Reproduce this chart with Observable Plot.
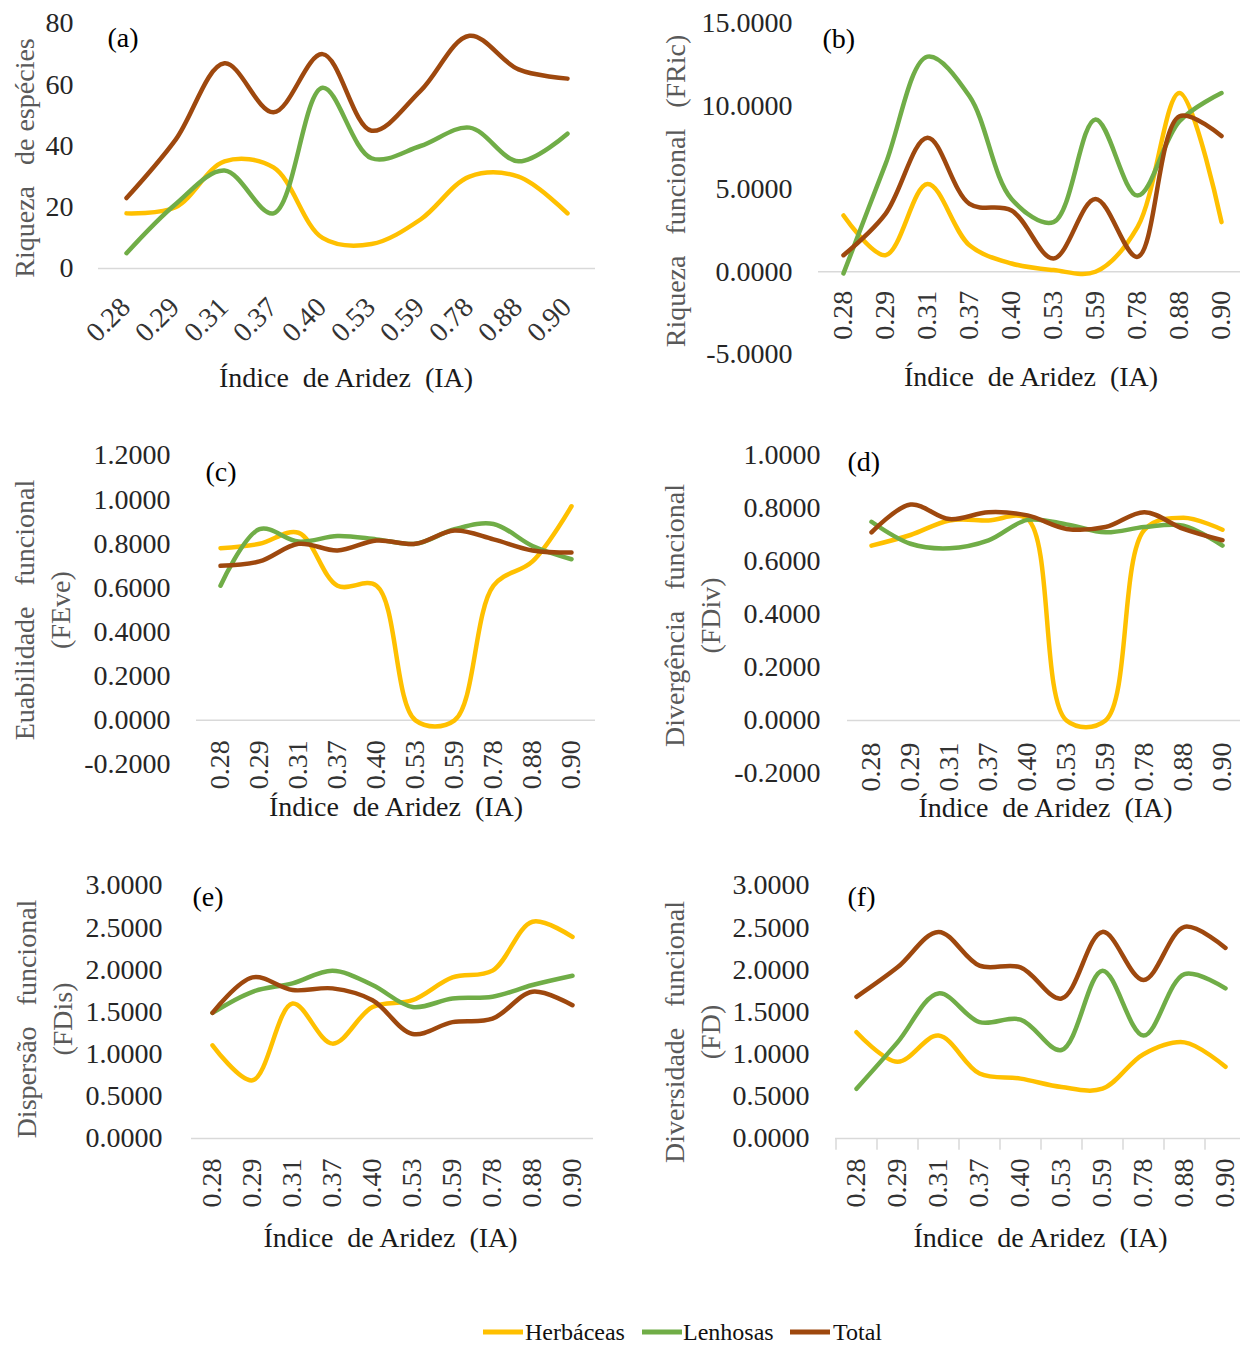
<!DOCTYPE html>
<html>
<head>
<meta charset="utf-8">
<script src="https://cdn.jsdelivr.net/npm/d3@7"></script>
<script src="https://cdn.jsdelivr.net/npm/@observablehq/plot@0.6"></script>
<style>
  html, body { margin: 0; padding: 0; background: #fff; }
  #fig { position: relative; width: 1240px; height: 1347px; overflow: hidden;
         font-family: "Liberation Serif", "Times New Roman", serif; }
  #fig svg { position: absolute; overflow: visible; }
  #fig svg text { white-space: pre; }
</style>
</head>
<body>
<div id="fig"></div>
<script>
// Aridity index classes (x axis of every panel)
const categories = ["0.28", "0.29", "0.31", "0.37", "0.40", "0.53", "0.59", "0.78", "0.88", "0.90"];
const seriesNames = ["Herbáceas", "Lenhosas", "Total"];
const seriesColors = ["#FFC000", "#70AD47", "#9E480E"];

// (a) Riqueza de espécies
const riqHerbaceas = [18, 20, 35, 33, 10, 8, 16, 30, 30, 18];
const riqLenhosas  = [5, 21, 32, 18, 59, 36, 40, 46, 35, 44];
const riqTotal     = [23, 42, 67, 51, 70, 45, 58, 76, 65, 62];
const ticksA = [0, 20, 40, 60, 80];

// (b) Riqueza funcional (FRic)
const fricHerbaceas = [3.4, 1.0, 5.3, 1.6, 0.5, 0.1, 0.0, 2.7, 10.8, 3.0];
const fricLenhosas  = [-0.1, 6.5, 13.0, 10.6, 4.4, 3.0, 9.2, 4.6, 9.1, 10.8];
const fricTotal     = [1.0, 3.5, 8.1, 4.1, 3.7, 0.8, 4.4, 0.9, 9.4, 8.2];
const ticksB = [-5, 0, 5, 10, 15];

// (c) Equabilidade funcional (FEve)
const feveHerbaceas = [0.78, 0.80, 0.85, 0.61, 0.61, 0.0, 0.0, 0.61, 0.72, 0.97];
const feveLenhosas  = [0.61, 0.866, 0.81, 0.835, 0.82, 0.80, 0.866, 0.89, 0.79, 0.73];
const feveTotal     = [0.70, 0.72, 0.80, 0.77, 0.815, 0.80, 0.86, 0.82, 0.77, 0.76];
const ticksC = [-0.2, 0, 0.2, 0.4, 0.6, 0.8, 1.0, 1.2];

// (d) Divergência funcional (FDiv)
const fdivHerbaceas = [0.66, 0.70, 0.755, 0.755, 0.76, 0.0, 0.0, 0.72, 0.765, 0.72];
const fdivLenhosas  = [0.75, 0.667, 0.65, 0.68, 0.757, 0.74, 0.71, 0.73, 0.735, 0.66];
const fdivTotal     = [0.71, 0.815, 0.76, 0.786, 0.774, 0.723, 0.73, 0.786, 0.723, 0.68];
const ticksD = [-0.2, 0, 0.2, 0.4, 0.6, 0.8, 1.0];

// (e) Dispersão funcional (FDis)
const fdisHerbaceas = [1.105, 0.69, 1.60, 1.125, 1.56, 1.64, 1.91, 1.99, 2.57, 2.39];
const fdisLenhosas  = [1.49, 1.74, 1.84, 1.99, 1.82, 1.56, 1.66, 1.68, 1.82, 1.93];
const fdisTotal     = [1.49, 1.91, 1.76, 1.78, 1.64, 1.24, 1.38, 1.42, 1.74, 1.58];
const ticksE = [0, 0.5, 1.0, 1.5, 2.0, 2.5, 3.0];

// (f) Diversidade funcional (FD)
const fdHerbaceas = [1.26, 0.91, 1.22, 0.77, 0.71, 0.61, 0.59, 1.00, 1.14, 0.85];
const fdLenhosas  = [0.59, 1.14, 1.72, 1.38, 1.41, 1.05, 1.99, 1.22, 1.95, 1.78];
const fdTotal     = [1.68, 2.03, 2.45, 2.05, 2.03, 1.66, 2.45, 1.88, 2.51, 2.26];
const ticksF = [0, 0.5, 1.0, 1.5, 2.0, 2.5, 3.0];

const xTitle = "Índice  de Aridez  (IA)";
const FONT = "Liberation Serif, Times New Roman, serif";

function toRows(herb, lenh, total) {
  return [herb, lenh, total].flatMap((vals, s) =>
    vals.map((v, i) => ({cat: categories[i], series: seriesNames[s], value: v})));
}

const fig = document.getElementById("fig");

function drawPanel(p) {
  const mL = p.frame[0] - p.box[0];
  const mR = p.box[0] + p.box[2] - p.frame[1];
  const mT = p.frame[2] - p.box[1];
  const mB = p.box[1] + p.box[3] - p.frame[3];
  const step = (p.frame[1] - p.frame[0]) / categories.length;
  const marks = [
    Plot.ruleY([0], {stroke: "#d9d9d9", strokeWidth: 1.5}),
  ];
  if (p.betweenTicks) {
    marks.push(
      Plot.ruleX(categories, {x: d => d, y1: 0, y2: p.betweenTicks, dx: -step / 2, stroke: "#d9d9d9", strokeWidth: 1.5}),
      Plot.ruleX(categories.slice(-1), {x: d => d, y1: 0, y2: p.betweenTicks, dx: step / 2, stroke: "#d9d9d9", strokeWidth: 1.5})
    );
  }
  marks.push(
    Plot.line(p.data, {x: "cat", y: "value", z: "series", stroke: "series",
      curve: "catmull-rom", strokeWidth: 4.5, strokeLinecap: "round", strokeLinejoin: "round"}),
    // y tick labels
    Plot.text(p.yTicks, {y: d => d, frameAnchor: "left", textAnchor: "end", dx: -p.tickPad,
      text: p.yFormat, fontSize: 28, fill: "#262626"}),
    // x tick labels, hung below the zero line
    Plot.text(categories, {x: d => d, y: () => 0, rotate: p.xRotate, textAnchor: "end",
      lineAnchor: "middle", dx: p.xLabelDx, dy: p.xLabelDy, text: d => d, fontSize: 28, fill: "#333"}),
    // axis titles
    Plot.text([p.yTitle], {frameAnchor: "left", rotate: -90, textAnchor: "middle", lineAnchor: "middle",
      dx: p.yTitleDx, dy: p.yTitleDy, text: d => d, fontSize: 28, lineHeight: 1.27, fill: "#595959"}),
    Plot.text([xTitle], {frameAnchor: "bottom", lineAnchor: "middle", dx: p.xTitleDx, dy: p.xTitleDy,
      text: d => d, fontSize: 28, fill: "#1a1a1a"}),
    // panel letter
    Plot.text([p.tag], {frameAnchor: "top-left", textAnchor: "start", lineAnchor: "middle",
      dx: p.tagDx, dy: p.tagDy, text: d => d, fontSize: 28, fill: "#000"})
  );
  const svg = Plot.plot({
    width: p.box[2], height: p.box[3],
    marginLeft: mL, marginRight: mR, marginTop: mT, marginBottom: mB,
    x: {type: "point", domain: categories, padding: 0.5, axis: null},
    y: {domain: p.yDomain, axis: null},
    color: {domain: seriesNames, range: seriesColors},
    style: {fontFamily: FONT, background: "transparent", overflow: "visible"},
    marks
  });
  svg.style.left = p.box[0] + "px";
  svg.style.top = p.box[1] + "px";
  svg.style.maxWidth = "none";
  fig.appendChild(svg);
}

const fmt4 = d => d.toFixed(4);

drawPanel({
  box: [0, 0, 620, 420], frame: [98, 595, 23, 268],
  data: toRows(riqHerbaceas, riqLenhosas, riqTotal),
  yDomain: [0, 80], yTicks: ticksA, yFormat: d => String(d), tickPad: 25,
  xRotate: -45, xLabelDx: -1, xLabelDy: 34,
  yTitle: "Riqueza   de espécies", yTitleDx: -76, yTitleDy: 12,
  xTitleDx: -1, xTitleDy: 110, tag: "(a)", tagDx: 9, tagDy: 15
});
drawPanel({
  box: [620, 0, 626, 420], frame: [818, 1245, 23, 354],
  data: toRows(fricHerbaceas, fricLenhosas, fricTotal),
  yDomain: [-5, 15], yTicks: ticksB, yFormat: fmt4, tickPad: 26,
  xRotate: -90, xLabelDx: 0, xLabelDy: 19,
  yTitle: "Riqueza   funcional   (FRic)", yTitleDx: -145, yTitleDy: 2,
  xTitleDx: -1, xTitleDy: 23, tag: "(b)", tagDx: 4, tagDy: 16
});
drawPanel({
  box: [0, 420, 620, 420], frame: [196, 595, 455, 764],
  data: toRows(feveHerbaceas, feveLenhosas, feveTotal),
  yDomain: [-0.2, 1.2], yTicks: ticksC, yFormat: fmt4, tickPad: 26,
  xRotate: -90, xLabelDx: 0, xLabelDy: 20,
  yTitle: "Euabilidade   funcional\n(FEve)", yTitleDx: -156, yTitleDy: 0,
  xTitleDx: 0, xTitleDy: 43, tag: "(c)", tagDx: 9, tagDy: 17
});
drawPanel({
  box: [620, 420, 626, 420], frame: [847, 1245, 455, 773],
  data: toRows(fdivHerbaceas, fdivLenhosas, fdivTotal),
  yDomain: [-0.2, 1.0], yTicks: ticksD, yFormat: fmt4, tickPad: 27,
  xRotate: -90, xLabelDx: 0, xLabelDy: 22,
  yTitle: "Divergência   funcional\n(FDiv)", yTitleDx: -157, yTitleDy: 1,
  xTitleDx: -1, xTitleDy: 35, tag: "(d)", tagDx: 0, tagDy: 7
});
drawPanel({
  box: [0, 850, 620, 420], frame: [191, 593, 885, 1138],
  data: toRows(fdisHerbaceas, fdisLenhosas, fdisTotal),
  yDomain: [0, 3], yTicks: ticksE, yFormat: fmt4, tickPad: 29,
  xRotate: -90, xLabelDx: 0, xLabelDy: 20,
  yTitle: "Dispersão   funcional\n(FDis)", yTitleDx: -149, yTitleDy: 7,
  xTitleDx: -2, xTitleDy: 100, tag: "(e)", tagDx: 1, tagDy: 12
});
drawPanel({
  box: [620, 850, 626, 420], frame: [835, 1245, 885, 1138],
  data: toRows(fdHerbaceas, fdLenhosas, fdTotal),
  yDomain: [0, 3], yTicks: ticksF, yFormat: fmt4, tickPad: 26,
  xRotate: -90, xLabelDx: 0, xLabelDy: 20, betweenTicks: -0.14,
  yTitle: "Diversidade   funcional\n(FD)", yTitleDx: -145, yTitleDy: 20,
  xTitleDx: 0, xTitleDy: 100, tag: "(f)", tagDx: 12, tagDy: 12
});

// Legend below the panels: short line swatches with serif labels
const legendPos = [[483, 525], [642, 683], [790, 833]];
const legend = d3.create("svg")
  .attr("width", 460).attr("height", 40)
  .style("left", "450px").style("top", "1312px")
  .style("font-family", FONT);
seriesNames.forEach((name, i) => {
  const [sx, tx] = legendPos[i];
  legend.append("line")
    .attr("x1", sx - 450).attr("x2", sx - 450 + 40)
    .attr("y1", 20).attr("y2", 20)
    .attr("stroke", seriesColors[i]).attr("stroke-width", 5);
  legend.append("text")
    .attr("x", tx - 450).attr("y", 20).attr("dy", "0.34em")
    .attr("font-size", 24).attr("fill", "#111")
    .text(name);
});
fig.appendChild(legend.node());
</script>
</body>
</html>
